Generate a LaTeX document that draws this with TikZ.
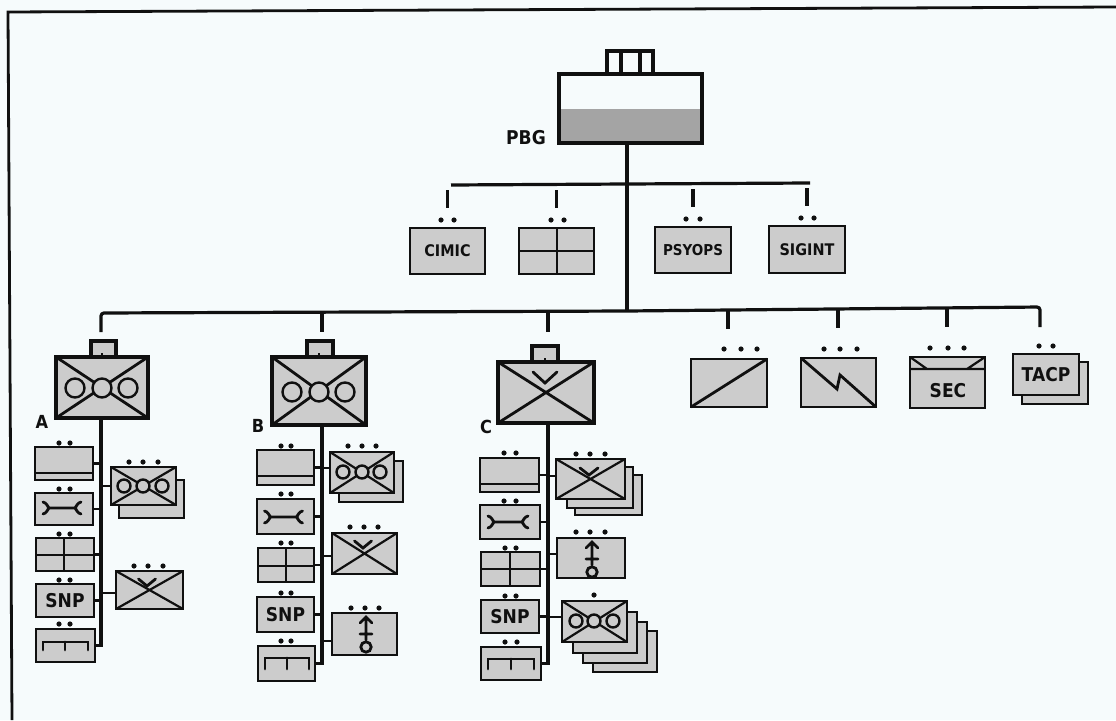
\documentclass[tikz,border=0pt]{standalone}
\usepackage{fontspec}
\setmainfont{DejaVu Sans}[FakeStretch=0.9]
\usetikzlibrary{calc}
\definecolor{paper}{HTML}{F6FBFC}
\definecolor{unitgray}{HTML}{CCCCCC}
\definecolor{deepgray}{HTML}{A4A4A4}
\definecolor{ink}{HTML}{101010}
\tikzset{
  unitbox/.style={draw=ink,fill=unitgray,line width=2.2pt,inner sep=0pt,outer sep=0pt,text=ink},
  hqbox/.style={unitbox,line width=4pt},
  conn/.style={draw=ink,line width=2.6pt},
  stem/.style={draw=ink,line width=3.2pt},
  sym/.style={draw=ink,line width=2.2pt},
  symthick/.style={draw=ink,line width=2.8pt,line cap=round},
  txtS/.style={font=\fontsize{16}{16}\selectfont\bfseries},
  txtP/.style={font=\fontsize{15}{15}\selectfont\bfseries},
  txtM/.style={font=\fontsize{19}{19}\selectfont\bfseries},
  txtL/.style={font=\fontsize{19}{19}\selectfont\bfseries,text=ink,inner sep=0pt},
  letter/.style={font=\fontsize{18}{18}\selectfont\bfseries,text=ink,inner sep=0pt},
  circ/.style={draw=ink,fill=unitgray,line width=2.4pt},
  tabline/.style={draw=ink,line width=3.2pt},
}
% name, x1,y1,x2,y2, style, text
\newcommand{\ub}[7]{%
  \pgfmathsetmacro{\ubw}{#4-#2}\pgfmathsetmacro{\ubh}{#5-#3}%
  \pgfmathsetmacro{\ubx}{(#2+#4)/2}\pgfmathsetmacro{\uby}{(#3+#5)/2}%
  \node[#6,minimum width=\ubw pt,minimum height=\ubh pt] (#1) at (\ubx,\uby) {#7};}
% xlist, y
\newcommand{\pips}[2]{\foreach \px in {#1} {\fill[ink] (\px,#2) circle (2.6pt);}}
\newcommand{\xed}[2][sym]{\draw[#1] (#2.north west) -- (#2.south east) (#2.north east) -- (#2.south west);}
\newcommand{\ooo}[5]{\foreach \cx in {#1,#2,#3} {\draw[circ] (\cx,#4) circle (#5pt);}}
% apex x,y; half width, height
\newcommand{\chev}[4]{\draw[symthick] (#1-#3,#2-#4) -- (#1,#2) -- (#1+#3,#2-#4);}
% centre x,y, half length
\newcommand{\wrench}[3]{\draw[symthick] (#1-#3+5,#2) -- (#1+#3-5,#2)
  (#1-#3,#2-6) .. controls (#1-#3+4,#2-5) and (#1-#3+4,#2-2) .. (#1-#3+6,#2) .. controls (#1-#3+4,#2+2) and (#1-#3+4,#2+5) .. (#1-#3,#2+6)
  (#1+#3,#2-6) .. controls (#1+#3-4,#2-5) and (#1+#3-4,#2-2) .. (#1+#3-6,#2) .. controls (#1+#3-4,#2+2) and (#1+#3-4,#2+5) .. (#1+#3,#2+6);}
\newcommand{\comb}[5]{\draw[symthick] (#1,#5) -- (#1,#4) -- (#3,#4) -- (#3,#5) (#2,#4) -- (#2,#5);}
\newcommand{\crossed}[3]{\draw[sym] (#2,0 |- #1.north) -- (#2,0 |- #1.south) (#1.west |- 0,#3) -- (#1.east |- 0,#3);}
% top x,y of arrow, foot
\newcommand{\mast}[2]{\draw[symthick] (#1,#2) -- (#1,#2+23) (#1-6,#2+6) -- (#1,#2) -- (#1+6,#2+6) (#1-6,#2+17) -- (#1+6,#2+17);
  \draw[symthick] (#1,#2+30) circle (5.2pt);}
\begin{document}
\begin{tikzpicture}[x=1pt,y=-1pt]
\useasboundingbox (0,0) rectangle (1116,720);
\fill[paper] (0,0) rectangle (1116,720);
% frame
\coordinate (frameBL) at (12,720);
\coordinate (frameTL) at (8,12);
\coordinate (frameTR) at (1116,7);
\draw[ink,line width=2.8pt] (frameBL) -- (frameTL) -- (frameTR);

% ---- PBG
\fill[deepgray] (559,109) rectangle (702,143);
\ub{PBG}{559}{74}{702}{143}{draw=ink,line width=3.6pt,inner sep=0pt,outer sep=0pt}{}
\draw[tabline] (607,74) -- (607,51) -- (653,51) -- (653,74) (621,51) -- (621,72) (640,51) -- (640,72);
\node[txtL] (PBGlabel) at (526,138) {PBG};

\ub{CIMIC}{410}{228}{485}{274}{unitbox,txtS}{CIMIC}
\ub{GRID}{519}{228}{594}{274}{unitbox}{}
\crossed{GRID}{557}{251}
\ub{PSYOPS}{655}{227}{731}{273}{unitbox,txtP}{PSYOPS}
\ub{SIGINT}{769}{226}{845}{273}{unitbox,txtS}{SIGINT}
\pips{441,454}{220}\pips{551,564}{220}\pips{686,700}{219}\pips{801,814}{218}

\coordinate (Ptop) at (627,143);
\coordinate (busJ) at (627,311);
\coordinate (up1L) at (451,185);
\coordinate (up1R) at (810,183);
\coordinate (up1J) at (627,184);
\draw[stem] (Ptop) -- (busJ);
\draw[stem] (up1L) -- (up1J) -- (up1R);
\foreach \n in {CIMIC,GRID,PSYOPS,SIGINT}{
  \draw[stem] ([yshift=38pt]\n.north) -- ([yshift=20pt]\n.north);}

% ---- lower bus
\foreach \n/\x/\a/\b in {A/101/313/332,B/322/312/332,C/548/311.5/332,D/728/310/329,E/838/309/328,F/947/308/327,G/1040/307/327}{
  \coordinate (bus\n) at (\x,\a); \coordinate (tip\n) at (\x,\b);}
\draw[stem,rounded corners=3pt] (tipA) -- (busA) -- (busJ) -- (busG) -- (tipG);
\foreach \n in {B,C,D,E,F}{\draw[stem] (bus\n) -- (tip\n);}

% ---- right units
\ub{DIAG}{691}{359}{767}{407}{unitbox}{}
\draw[symthick,line cap=butt] (DIAG.south west) -- (DIAG.north east);
\pips{724,741,757}{349}
\ub{ZIG}{801}{358}{876}{407}{unitbox}{}
\draw[symthick,line cap=butt] (ZIG.north west) -- (837,389) -- (840,375) -- (ZIG.south east);
\pips{824,840,857}{349}
\ub{SEC}{910}{357}{985}{408}{unitbox}{}
\node[txtM,text=ink,inner sep=0pt] (SECtxt) at (948,391) {SEC};
\draw[sym] (SEC.west |- 0,369) -- (SEC.east |- 0,369) (SEC.north west) -- (927,369) (SEC.north east) -- (967,369);
\pips{930,948,964}{348}
\ub{TACPb}{1022}{362}{1088}{404}{unitbox}{}
\ub{TACP}{1013}{354}{1079}{395}{unitbox,txtM}{TACP}
\pips{1039,1053}{346}

% ---- A
\fill[unitgray] (91,341) rectangle (116,357);
\draw[tabline] (91,357) -- (91,341) -- (116,341) -- (116,357);
\ub{AHQ}{56}{357}{148}{418}{hqbox}{}
\xed[symthick]{AHQ}
\ooo{75}{102}{128}{388}{9.5}
\draw[sym] (102,353) -- (102,357);
\node[letter] (Alabel) at (42,422) {A};
\ub{A1}{35}{447}{93}{480}{unitbox}{}
\draw[ink,line width=1.2pt] (A1.west |- 0,473) -- (A1.east |- 0,473);
\ub{A2}{35}{493}{93}{525}{unitbox}{}
\wrench{62}{508}{19}
\ub{A3}{36}{538}{94}{571}{unitbox}{}
\crossed{A3}{64}{555}
\ub{A4}{36}{584}{94}{617}{unitbox,txtM}{SNP}
\ub{A5}{36}{629}{95}{662}{unitbox}{}
\comb{43}{65}{88}{642}{650}
\pips{59,70}{443}\pips{59,70}{489}\pips{59,70}{534}\pips{59,70}{580}\pips{59,70}{624}
\ub{Ar1b}{119}{480}{184}{518}{unitbox}{}
\ub{Ar1}{111}{467}{176}{505}{unitbox}{}
\xed{Ar1}
\ooo{124}{143}{162}{486}{6.5}
\pips{129,143,158}{462}
\ub{Ar2}{116}{571}{183}{609}{unitbox}{}
\xed{Ar2}
\chev{147}{586}{8.5}{7}
\pips{134,148,163}{566}
\coordinate (Atop) at (101,418);
\draw[stem] (Atop) |- (A5.east);
\foreach \n in {A1,A2,A3,A4}{\draw[conn] (\n.east) -- (\n.east -| Atop);}
\draw[conn] (Ar1.west) -- (Ar1.west -| Atop);
\draw[conn] ([yshift=-3pt]Ar2.west) -- ([yshift=-3pt]Ar2.west -| Atop);

% ---- B
\fill[unitgray] (307,341) rectangle (333,357);
\draw[tabline] (307,357) -- (307,341) -- (333,341) -- (333,357);
\ub{BHQ}{272}{357}{366}{425}{hqbox}{}
\xed[symthick]{BHQ}
\ooo{292}{319}{345}{392}{9.5}
\draw[sym] (319,353) -- (319,357);
\node[letter] (Blabel) at (258,426) {B};
\ub{B1}{257}{450}{314}{485}{unitbox}{}
\draw[ink,line width=1.2pt] (B1.west |- 0,476) -- (B1.east |- 0,476);
\ub{B2}{257}{499}{314}{534}{unitbox}{}
\wrench{283.5}{517}{19}
\ub{B3}{258}{548}{314}{582}{unitbox}{}
\crossed{B3}{286}{566}
\ub{B4}{257}{597}{314}{632}{unitbox,txtM}{SNP}
\ub{B5}{258}{646}{315}{681}{unitbox}{}
\comb{265}{287}{309}{658}{669}
\pips{281,291}{446}\pips{281,291}{494}\pips{281,291}{543}\pips{281,291}{593}\pips{281,291}{641}
\ub{Br1b}{339}{461}{403}{502}{unitbox}{}
\ub{Br1}{330}{452}{394}{493}{unitbox}{}
\xed{Br1}
\ooo{343}{362}{380}{472}{6.5}
\pips{348,362,376}{446}
\ub{Br2}{332}{533}{397}{574}{unitbox}{}
\xed{Br2}
\chev{363}{548}{8.5}{7}
\pips{350,364,378}{527}
\ub{Br3}{332}{613}{397}{655}{unitbox}{}
\mast{366}{617}
\pips{351,365,379}{608}
\coordinate (Btop) at (322,425);
\draw[stem] (Btop) |- (B5.east);
\foreach \n in {B1,B2,B3,B4}{\draw[conn] (\n.east) -- (\n.east -| Btop);}
\draw[conn] ([yshift=4.5pt]Br1.west) -- ([yshift=4.5pt]Br1.west -| Btop);
\draw[conn] ([yshift=-2.5pt]Br2.west) -- ([yshift=-2.5pt]Br2.west -| Btop);
\draw[conn] ([yshift=-7pt]Br3.west) -- ([yshift=-7pt]Br3.west -| Btop);

% ---- C
\fill[unitgray] (532,346) rectangle (558,362);
\draw[tabline] (532,362) -- (532,346) -- (558,346) -- (558,362);
\ub{CHQ}{498}{362}{594}{423}{hqbox}{}
\xed[symthick]{CHQ}
\chev{545}{383}{12}{11}
\draw[sym] (545,358) -- (545,362);
\node[letter] (Clabel) at (486,427) {C};
\ub{C1}{480}{458}{539}{492}{unitbox}{}
\draw[ink,line width=1.2pt] (C1.west |- 0,484) -- (C1.east |- 0,484);
\ub{C2}{480}{505}{540}{539}{unitbox}{}
\wrench{508}{522}{20}
\ub{C3}{481}{552}{540}{586}{unitbox}{}
\crossed{C3}{510}{569}
\ub{C4}{481}{600}{539}{633}{unitbox,txtM}{SNP}
\ub{C5}{481}{647}{541}{680}{unitbox}{}
\comb{488}{511}{534}{659}{669}
\pips{504,516}{453}\pips{504,516}{501}\pips{505,516}{548}\pips{505,516}{596}\pips{505,517}{642}
\ub{Cr1c}{575}{475}{642}{515}{unitbox}{}
\ub{Cr1b}{567}{467}{633}{508}{unitbox}{}
\ub{Cr1}{556}{459}{625}{499}{unitbox}{}
\xed{Cr1}
\chev{589}{475}{9}{7}
\pips{576,590,605}{454}
\ub{Cr2}{557}{538}{625}{578}{unitbox}{}
\mast{592}{542}
\pips{576,590,605}{532}
\ub{Cr3d}{593}{631}{657}{672}{unitbox}{}
\ub{Cr3c}{583}{622}{647}{663}{unitbox}{}
\ub{Cr3b}{573}{612}{637}{653}{unitbox}{}
\ub{Cr3}{562}{601}{627}{642}{unitbox}{}
\xed{Cr3}
\ooo{576}{594}{613}{621}{6.5}
\pips{594}{595}
\coordinate (Ctop) at (548,423);
\draw[stem] (Ctop) |- (C5.east);
\foreach \n in {C1,C2,C3,C4}{\draw[conn] (\n.east) -- (\n.east -| Ctop);}
\draw[conn] ([yshift=3pt]Cr1.west) -- ([yshift=3pt]Cr1.west -| Ctop);
\draw[conn] ([yshift=4pt]Cr2.west) -- ([yshift=4pt]Cr2.west -| Ctop);
\draw[conn] ([yshift=4.5pt]Cr3.west) -- ([yshift=4.5pt]Cr3.west -| Ctop);
\end{tikzpicture}
\end{document}
